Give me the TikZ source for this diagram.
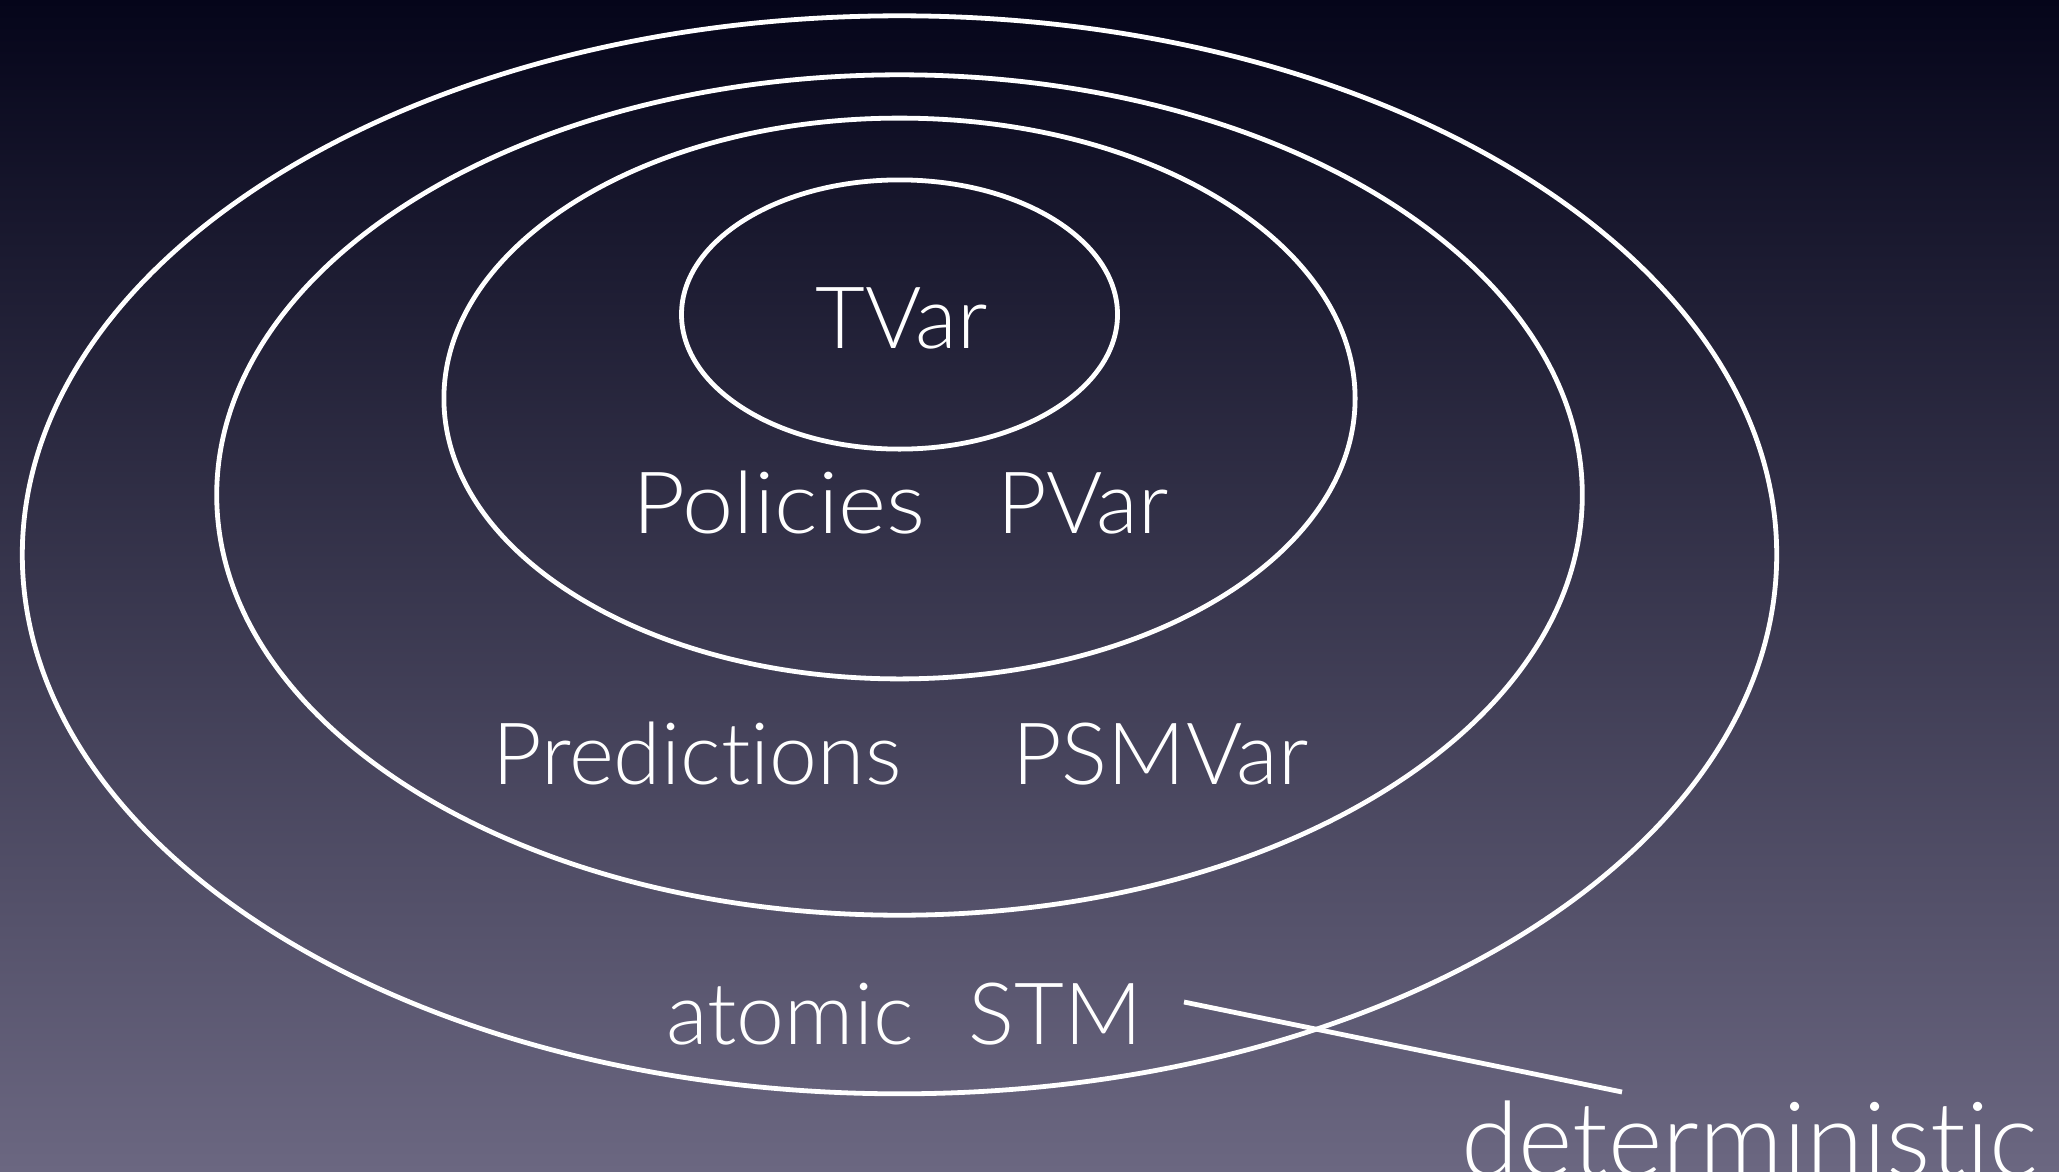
\documentclass[tikz,border=0pt]{standalone}
\usepackage{fontspec}
\setmainfont{Lato Light}[Ligatures={NoCommon,NoRare}]
\begin{document}
\begin{tikzpicture}[x=1pt,y=-1pt,
  ring/.style={draw=white,line width=4.8pt},
  lbl/.style={text=white,inner sep=0pt,anchor=base west,font=\fontsize{86}{100}\selectfont}]
\definecolor{bgtop}{HTML}{05051A}
\definecolor{bgmid}{HTML}{2E2D4C}
\definecolor{bgbot}{HTML}{6B6781}
\shade[top color=bgtop, middle color=bgmid, bottom color=bgbot] (0,0) rectangle (2059,1171);
\useasboundingbox (0,0) rectangle (2059,1171);
\draw[ring] (899.5,554.8) ellipse [x radius=877.2, y radius=539];
\draw[ring] (899.5,495) ellipse [x radius=682.8, y radius=420.2];
\draw[ring] (899.5,398.5) ellipse [x radius=455.6, y radius=280.4];
\draw[ring] (899.5,314.5) ellipse [x radius=218, y radius=134.6];
\node[lbl] (tvar) at (815,348) {TVar};
\node[lbl] (pol) at (632,533) {\scalebox{1.07}[1]{Policies}};
\node[lbl] (pvar) at (997,533) {PVar};
\node[lbl] (pred) at (492,784) {Predictions};
\node[lbl] (psm) at (1012,784) {PSMVar};
\node[lbl] (atom) at (666,1044) {atomic};
\node[lbl] (stm) at (968,1044) {STM};
\node[lbl,font=\fontsize{104}{120}\selectfont] (det) at (1461,1176) {deterministic};
\coordinate (a) at (1184,1002);
\coordinate (b) at (1622,1092);
\draw[white,line width=4.8pt] (a) -- (b);
\end{tikzpicture}
\end{document}
